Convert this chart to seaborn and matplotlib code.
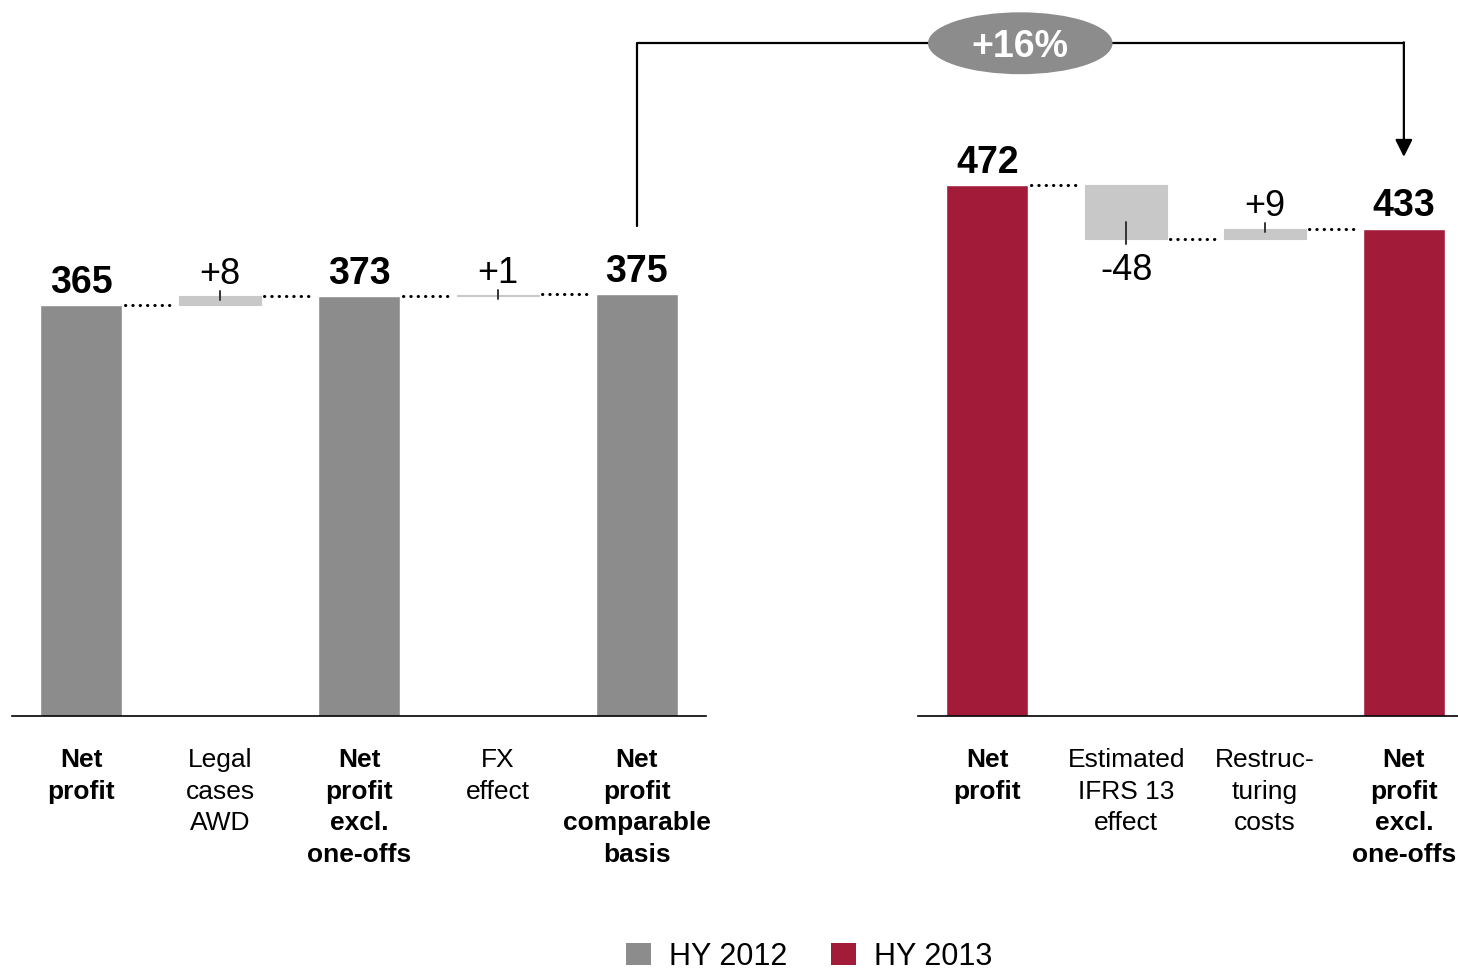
import matplotlib
matplotlib.use("Agg")
import matplotlib.pyplot as plt
from matplotlib.patches import Ellipse, Patch
import pandas as pd
import seaborn as sns

# ---- data -------------------------------------------------------------
left_labels = ["Net\nprofit", "Legal\ncases\nAWD", "Net\nprofit\nexcl.\none-offs",
               "FX\neffect", "Net\nprofit\ncomparable\nbasis"]
left_values = [365, 8, 373, 1, 375]
left_kinds = ["total", "delta", "total", "delta", "total"]

right_labels = ["Net\nprofit", "Estimated\nIFRS 13\neffect", "Restruc-\nturing\ncosts",
                "Net\nprofit\nexcl.\none-offs"]
right_values = [472, -48, 9, 433]
right_kinds = ["total", "delta", "delta", "total"]

growth_label = "+16%"
legend_labels = ["HY 2012", "HY 2013"]

# ---- style ------------------------------------------------------------
sns.set_style("white")
plt.rcParams["font.family"] = ["Liberation Sans", "DejaVu Sans"]
plt.rcParams["text.color"] = "black"
plt.rcParams["xtick.labelcolor"] = "black"
plt.rcParams["xtick.color"] = "black"

GREY = "#8C8C8C"
RED = "#A21C3A"
DELTA = "#C8C8C8"
BAR_W = 0.59
YMAX = 560

fig = plt.figure(figsize=(14.58, 9.74), dpi=100)
ax1 = fig.add_axes([12 / 1458, 258 / 974, 694 / 1458, 630 / 974])
ax2 = fig.add_axes([918 / 1458, 258 / 974, 540 / 1458, 630 / 974])


def waterfall(ax, labels, values, kinds, color, xmax):
    totals = pd.DataFrame({
        "label": [l for l, k in zip(labels, kinds) if k == "total"],
        "value": [v for v, k in zip(values, kinds) if k == "total"],
    })
    sns.barplot(data=totals, x="label", y="value", order=labels, color=color,
                saturation=1, width=BAR_W, ax=ax, zorder=2)

    running = 0
    levels = []
    for i, (v, k) in enumerate(zip(values, kinds)):
        if k == "total":
            running = v
            ax.text(i, v + 11, f"{v}", ha="center", va="baseline",
                    fontsize=27, fontweight="bold")
        else:
            start = running
            running = running + v
            lo, hi = min(start, running), max(start, running)
            ax.bar(i, hi - lo, bottom=lo, width=BAR_W, color=DELTA,
                   edgecolor=DELTA, linewidth=0.8, zorder=2)
            txt = f"{v:+d}"
            if v >= 0:
                ax.plot([i, i], [hi - 3, hi + 5], color="#333333", lw=1.4, zorder=3)
                ax.text(i, hi + 11, txt, ha="center", va="baseline", fontsize=26)
            else:
                ax.plot([i, i], [lo + 15, lo - 4], color="#333333", lw=1.4, zorder=3)
                ax.text(i, lo - 12, txt, ha="center", va="top", fontsize=26)
        levels.append(running)

    # dotted connectors between neighbouring bars
    for i in range(len(values) - 1):
        lvl = values[i + 1] if kinds[i + 1] == "total" else levels[i]
        ax.plot([i + BAR_W / 2 + 0.02, i + 1 - BAR_W / 2 - 0.03], [lvl, lvl],
                color="black", lw=2.2, linestyle=(0, (0.1, 2.3)),
                dash_capstyle="round", zorder=3)

    ax.set_xlim(-0.5, xmax)
    ax.set_ylim(0, YMAX)
    ax.set_xlabel("")
    ax.set_ylabel("")
    ax.set_yticks([])
    ax.set_xticks(range(len(labels)))
    ax.set_xticklabels(labels, fontsize=19)
    for lbl, k in zip(ax.get_xticklabels(), kinds):
        lbl.set_fontweight("bold" if k == "total" else "normal")
        lbl.set_linespacing(1.4)
        lbl.set_color("black")
    ax.tick_params(axis="x", length=0, pad=23)
    for side in ["left", "right", "top"]:
        ax.spines[side].set_visible(False)
    ax.spines["bottom"].set_color("black")
    ax.spines["bottom"].set_linewidth(1.2)
    ax.patch.set_alpha(0)


waterfall(ax1, left_labels, left_values, left_kinds, GREY, 4.5)
waterfall(ax2, right_labels, right_values, right_kinds, RED, 3.39)

# ---- growth bracket from the comparable basis to the new result ------
fig.canvas.draw()
x_left = len(left_values) - 1
x_right = ax1.transData.inverted().transform(
    ax2.transData.transform((len(right_values) - 1, 0)))[0]
y_start = left_values[-1] + 61
y_top = 598
y_tip = right_values[-1] + 64
ax1.plot([x_left, x_left, x_right], [y_start, y_top, y_top],
         color="black", lw=1.6, clip_on=False, zorder=4)
ax1.annotate("", xy=(x_right, y_tip), xytext=(x_right, y_top + 0.8),
             arrowprops=dict(arrowstyle="-|>", color="black", lw=1.6,
                             mutation_scale=26, shrinkA=0, shrinkB=0),
             annotation_clip=False, zorder=4)
x_mid = (x_left + x_right) / 2
ax1.add_patch(Ellipse((x_mid, y_top), width=1.33, height=55, facecolor=GREY,
                      edgecolor="none", clip_on=False, zorder=5))
ax1.text(x_mid, y_top, growth_label, ha="center", va="center_baseline",
         fontsize=27, fontweight="bold", color="white", zorder=6, clip_on=False)

# ---- legend -----------------------------------------------------------
handles = [Patch(facecolor=GREY, edgecolor="none"), Patch(facecolor=RED, edgecolor="none")]
fig.legend(handles, legend_labels, loc="lower center", bbox_to_anchor=(0.555, -0.026),
           ncol=2, frameon=False, fontsize=22, handlelength=0.82, handleheight=0.75,
           handletextpad=0.6, columnspacing=1.4, labelcolor="black")

fig.savefig("out.png", dpi=100)
